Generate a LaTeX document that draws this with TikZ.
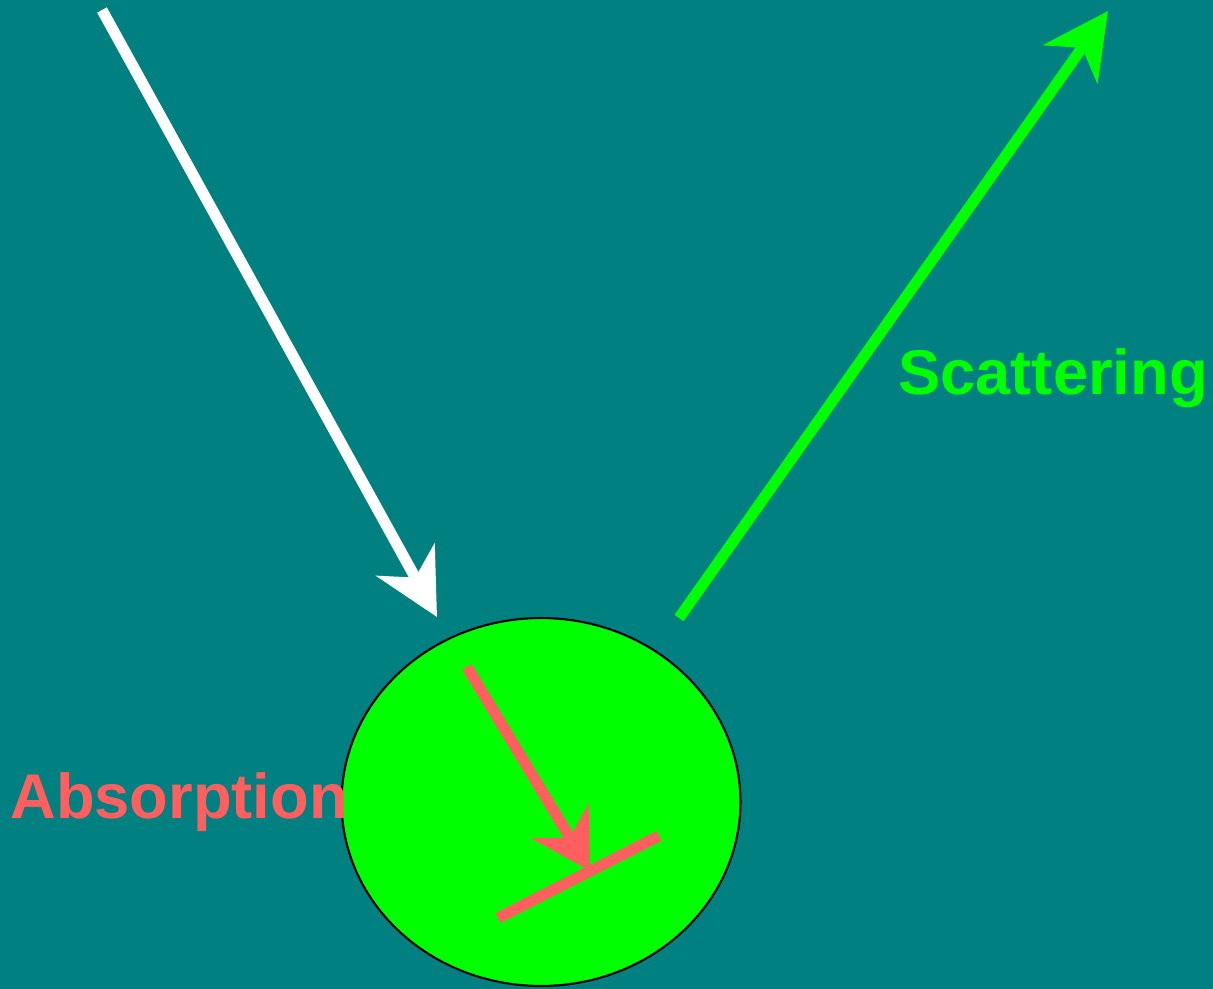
\documentclass[tikz,border=0pt]{standalone}
\usepackage{fontspec}
\setmainfont{Liberation Sans}
\usetikzlibrary{arrows.meta,positioning,calc,shapes.geometric}
\definecolor{teal0}{RGB}{0,128,128}
\definecolor{lime0}{RGB}{0,255,0}
\definecolor{salmon0}{RGB}{255,95,95}

\begin{document}
\begin{tikzpicture}[x=0.02cm, y=-0.02cm,
    ray/.style={line width=0.22cm, -{Stealth[length=1.3cm, width=1.32cm, inset=0.4cm]}},
    label/.style={font=\fontsize{36pt}{40pt}\selectfont\bfseries, anchor=base west, inner sep=0pt}]
        % Background
        \fill[teal0] (0,0) rectangle (1213,989);
        \useasboundingbox (0,0) rectangle (1213,989);

        % Nodes
        \node[ellipse, draw=black, line width=1.2pt, fill=lime0, minimum width=7.98cm, minimum height=7.36cm, inner sep=0pt] (particle) at (541,802) {};
        \coordinate (inS) at (102,10);
        \coordinate (inE) at (437,617);
        \coordinate (scS) at (679,618);
        \coordinate (scE) at (1108,11);
        \coordinate (abS) at (467,667);
        \coordinate (abE) at (590,871);
        \coordinate (wallA) at (498,918);
        \coordinate (wallB) at (659,836);

        % Rays
        \draw[ray, white] (inS) -- (inE);
        \draw[ray, lime0] (scS) -- (scE);
        \draw[ray, salmon0, -{Stealth[length=1.16cm, width=1.32cm, inset=0.38cm]}] (abS) -- (abE);
        \draw[salmon0, line width=0.22cm] (wallA) -- (wallB);

        % Labels
        \node[label, text=salmon0] (absorb) at (10,818) {Absorption};
        \node[label, text=lime0] (scatter) at (898,395) {Scattering};
    \end{tikzpicture}
\end{document}
